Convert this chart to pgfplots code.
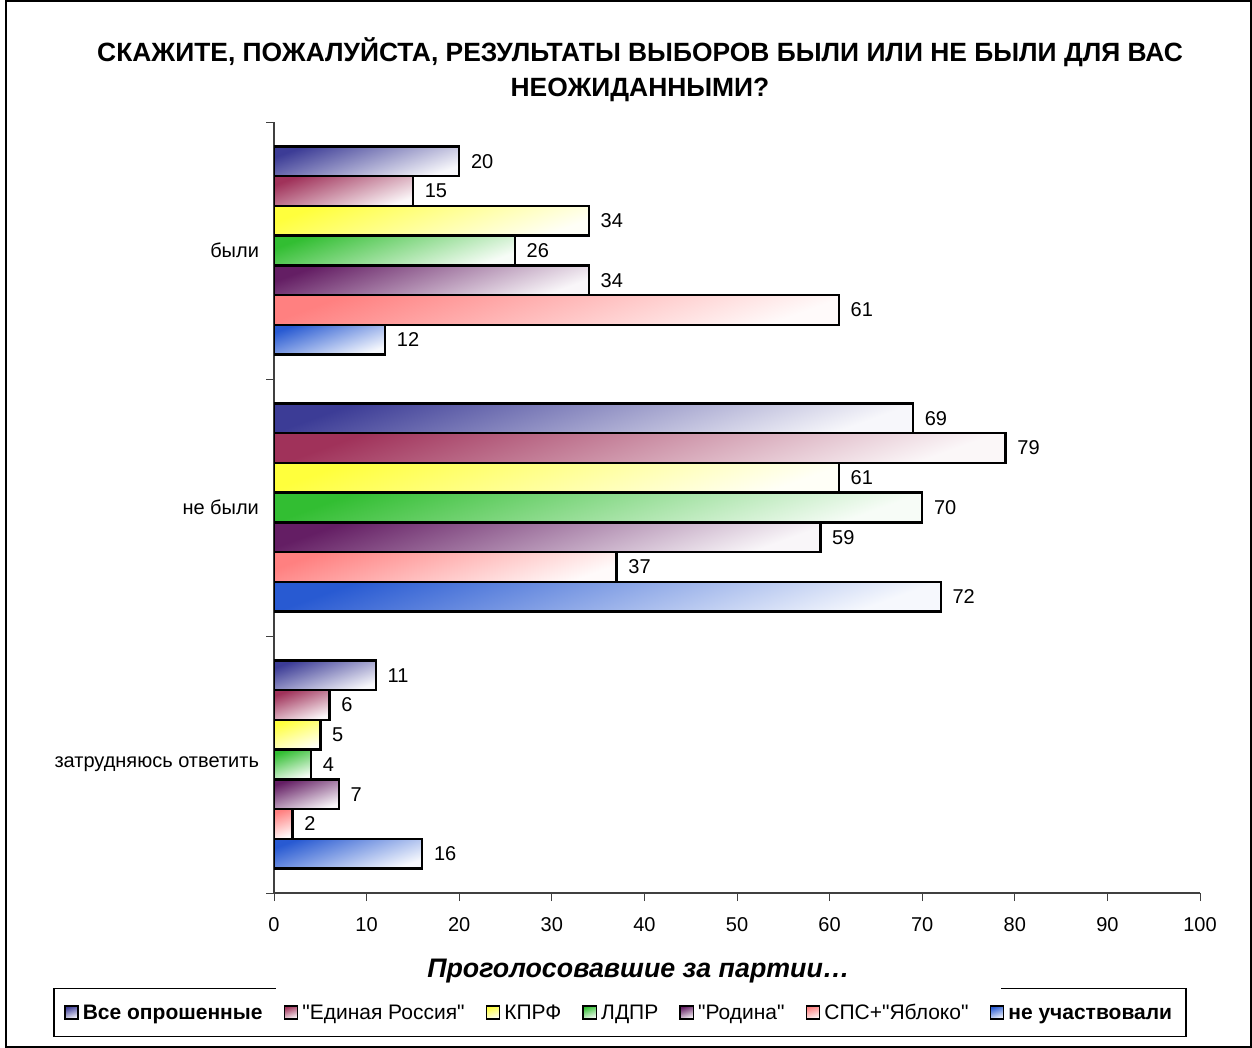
\documentclass[border=0pt]{standalone}
\usepackage{fontspec}
\setmainfont{Liberation Sans}[Ligatures=TeXOff]
\usepackage{pgfplots}
\pgfplotsset{compat=1.18}
\definecolor{c1}{RGB}{60,60,150}
\definecolor{c2}{RGB}{160,50,90}
\definecolor{c3}{RGB}{255,255,60}
\definecolor{c4}{RGB}{50,190,50}
\definecolor{c5}{RGB}{100,30,100}
\definecolor{c6}{RGB}{255,128,128}
\definecolor{c7}{RGB}{40,90,210}
\tikzset{grad/.style={left color=#1, middle color=#1!40!white, right color=#1!4!white, shading angle=20}}
% one series: #1 colour, #2 bar shift, #3 #4 #5 values (были, не были, затрудняюсь), #6 legend text
\newcommand\series[6]{%
  \addplot[grad=#1, bar shift=#2] coordinates {(#3,0)};
  \addlegendentry{\strut #6}
  \addplot[forget plot, grad=#1, bar shift=#2] coordinates {(#4,1)};
  \addplot[forget plot, grad=#1, bar shift=#2] coordinates {(#5,2)};
}
\begin{document}
\begin{tikzpicture}
\useasboundingbox (0,0) rectangle (626pt,524pt);
\draw[line width=1.2pt] (3pt,0.6pt) rectangle (625.4pt,523.4pt);
\node[font=\bfseries\fontsize{13.2}{17.5}\selectfont, align=center] at (320pt,489.25pt)
  {СКАЖИТЕ, ПОЖАЛУЙСТА, РЕЗУЛЬТАТЫ ВЫБОРОВ БЫЛИ ИЛИ НЕ БЫЛИ ДЛЯ ВАС\\НЕОЖИДАННЫМИ?};
\begin{axis}[
  at={(137pt,77.5pt)}, anchor=south west,
  scale only axis, width=463pt, height=385.5pt,
  xbar, bar width=0.1156,
  xmin=0, xmax=100, xtick={0,10,...,100},
  ymin=-0.5, ymax=2.5, y dir=reverse,
  ytick={-0.5,0.5,1.5,2.5}, yticklabels={},
  extra y ticks={0,1,2},
  extra y tick labels={были,не были,затрудняюсь ответить},
  extra y tick style={major tick length=0pt, yticklabel style={xshift=-4pt}},
  axis x line*=bottom, axis y line*=left,
  axis line style={-, draw=black!75, line width=0.75pt},
  tick align=outside, major tick length=4pt,
  tick style={draw=black!75, line width=0.5pt},
  ticklabel style={font=\fontsize{10}{12}\selectfont},
  xticklabel style={yshift=-4.5pt},
  /pgf/number format/assume math mode=true,
  nodes near coords,
  every node near coord/.append style={black, font=\fontsize{10}{12}\selectfont, xshift=2pt},
  every axis plot/.append style={draw=black, line width=1.2pt},
  legend columns=7,
  legend style={at={(axis description cs:0.3737,-0.155)}, anchor=center,
    draw=black, line width=0.6pt, fill=white,
    font=\fontsize{10.5}{12}\selectfont, inner ysep=5pt, inner xsep=5pt,
    /tikz/every odd column/.append style={column sep=0pt},
    /tikz/every even column/.append style={column sep=8.5pt}},
  legend image code/.code={\draw[#1, line width=0.8pt] (0pt,-3.3pt) rectangle (6.6pt,3.3pt);},
]
\series{c1}{-0.3468}{20}{69}{11}{\textbf{Все опрошенные}}
\series{c2}{-0.2312}{15}{79}{6}{"Единая Россия"}
\series{c3}{-0.1156}{34}{61}{5}{КПРФ}
\series{c4}{0}{26}{70}{4}{ЛДПР}
\series{c5}{0.1156}{34}{59}{7}{"Родина"}
\series{c6}{0.2312}{61}{37}{2}{СПС+"Яблоко"}
\series{c7}{0.3468}{12}{72}{16}{\textbf{не участвовали}}
\end{axis}
\node[fill=white, minimum width=362.5pt, minimum height=20pt, inner sep=0pt,
  font=\bfseries\itshape\fontsize{13.4}{15}\selectfont] at (319.25pt,38.5pt) {Проголосовавшие за партии…};
\end{tikzpicture}
\end{document}
